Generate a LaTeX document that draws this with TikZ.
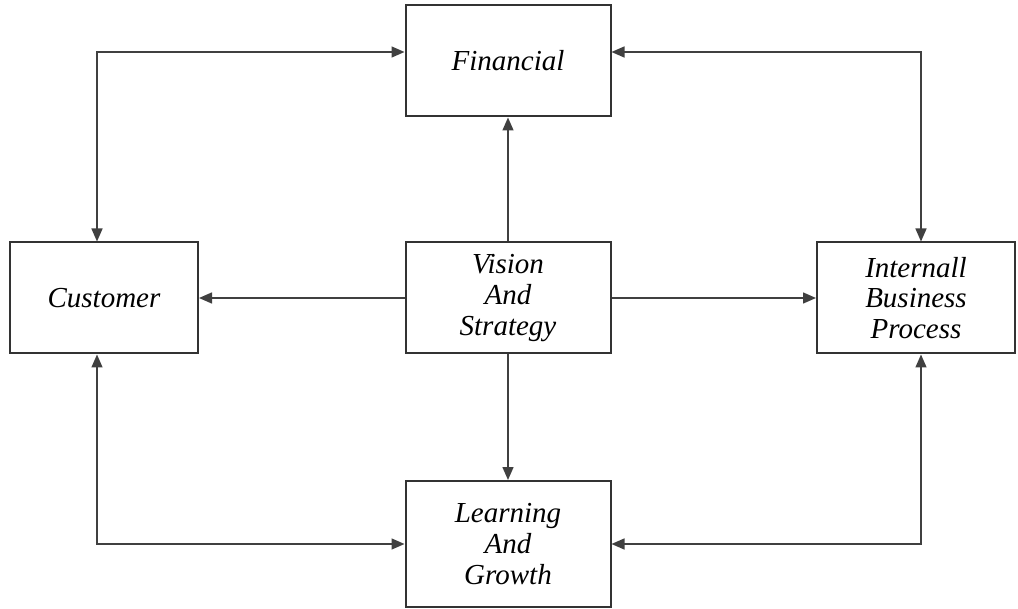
\documentclass[tikz,border=0pt]{standalone}
\usepackage{fontspec}
\setmainfont{Liberation Serif}
\usepackage{tikz}
\usetikzlibrary{arrows.meta, positioning}
\tikzset{
	box/.style={draw=black!80, line width=1pt, fill=white,
		minimum width=102.5pt, minimum height=55.5pt,
		align=center, inner sep=2pt, font=\fontsize{14.5}{15.3}\selectfont\itshape},
	arr/.style={-{Triangle[length=6.5pt,width=5.5pt]}, line width=0.75pt, black!75},
	link/.style={{Triangle[length=6.5pt,width=5.5pt]}-{Triangle[length=6.5pt,width=5.5pt]}, line width=0.75pt, black!75},
}

\begin{document}
\begin{tikzpicture}[x=0.5pt, y=-0.5pt]
	\useasboundingbox (0,0) rectangle (1018,609);
	\node[box] (vis) at (508,298) {Vision\\And\\Strategy};
	\node[box] (fin) at (508,61) {Financial};
	\node[box, minimum width=94pt] (cust) at (104,298) {Customer};
	\node[box, minimum width=99pt] (intl) at (916,298) {Internall\\Business\\Process};
	\node[box, minimum height=63pt] (learn) at (508,544) {Learning\\And\\Growth};
	% from the centre outwards
	\draw[arr] (vis) -- (fin);
	\draw[arr] (vis) -- (cust);
	\draw[arr] (vis) -- (intl);
	\draw[arr] (vis) -- (learn);
	% outer loop
	\draw[link] ([xshift=-3.5pt]cust.north) |- ([yshift=4.5pt]fin.west);
	\draw[link] ([yshift=4.5pt]fin.east) -| ([xshift=2.5pt]intl.north);
	\draw[link] ([xshift=-3.5pt]cust.south) |- (learn.west);
	\draw[link] (learn.east) -| ([xshift=2.5pt]intl.south);
\end{tikzpicture}
\end{document}
